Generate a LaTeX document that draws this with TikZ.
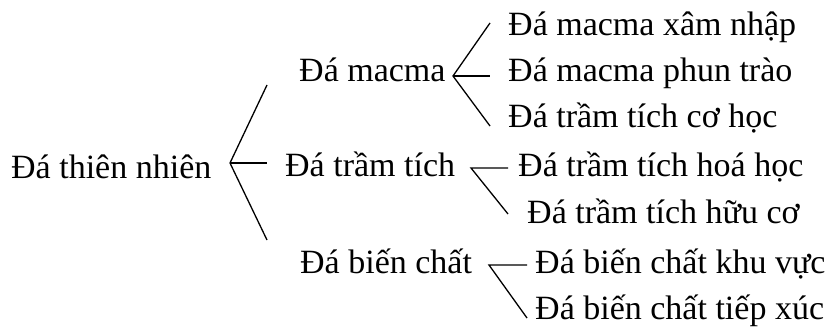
\documentclass[tikz,border=0pt]{standalone}
\usepackage{fontspec}
\setmainfont{Liberation Serif}

\begin{document}
\begin{tikzpicture}[
  x=1pt, y=-1pt,
  rock/.style={
    anchor=base west,
    inner sep=0pt,
    font=\fontsize{34}{40}\selectfont
  },
  branch/.style={
    line width=1.3pt,
    black
  }]
  \useasboundingbox (0,0) rectangle (831,329);
  % groups
  \node[rock] (root)   at (11,178)  {Đá thiên nhiên};
  \node[rock] (macma)  at (299,82)  {Đá macma};
  \node[rock] (tramtich) at (285,176) {Đá trầm tích};
  \node[rock] (bienchat) at (300,273) {Đá biến chất};
  % leaves
  \node[rock] (xamnhap) at (508,36)  {Đá macma xâm nhập};
  \node[rock] (phuntrao) at (508,82) {Đá macma phun trào};
  \node[rock] (cohoc)   at (508,128) {Đá trầm tích cơ học};
  \node[rock] (hoahoc)  at (518,176) {Đá trầm tích hoá học};
  \node[rock] (huuco)   at (527,223) {Đá trầm tích hữu cơ};
  \node[rock] (khuvuc)  at (535,273) {Đá biến chất khu vực};
  \node[rock] (tiepxuc) at (535,319) {Đá biến chất tiếp xúc};
  % fork points
  \coordinate (root-fork) at (230,163);
  \coordinate (root-a) at (267,85);
  \coordinate (root-b) at (267,163);
  \coordinate (root-c) at (267,240);
  \coordinate (macma-fork) at (453,76);
  \coordinate (macma-a) at (490,23);
  \coordinate (macma-b) at (490,76);
  \coordinate (macma-c) at (490,126);
  \coordinate (tramtich-fork) at (471,168);
  \coordinate (tramtich-a) at (508,168);
  \coordinate (tramtich-b) at (508,214);
  \coordinate (bienchat-fork) at (489,265);
  \coordinate (bienchat-a) at (527,265);
  \coordinate (bienchat-b) at (527,318);
  \draw[branch] (root-a) -- (root-fork) -- (root-c);
  \draw[branch] (root-fork) -- (root-b);
  \draw[branch] (macma-a) -- (macma-fork) -- (macma-c);
  \draw[branch] (macma-fork) -- (macma-b);
  \draw[branch] (tramtich-a) -- (tramtich-fork) -- (tramtich-b);
  \draw[branch] (bienchat-a) -- (bienchat-fork) -- (bienchat-b);
\end{tikzpicture}
\end{document}
